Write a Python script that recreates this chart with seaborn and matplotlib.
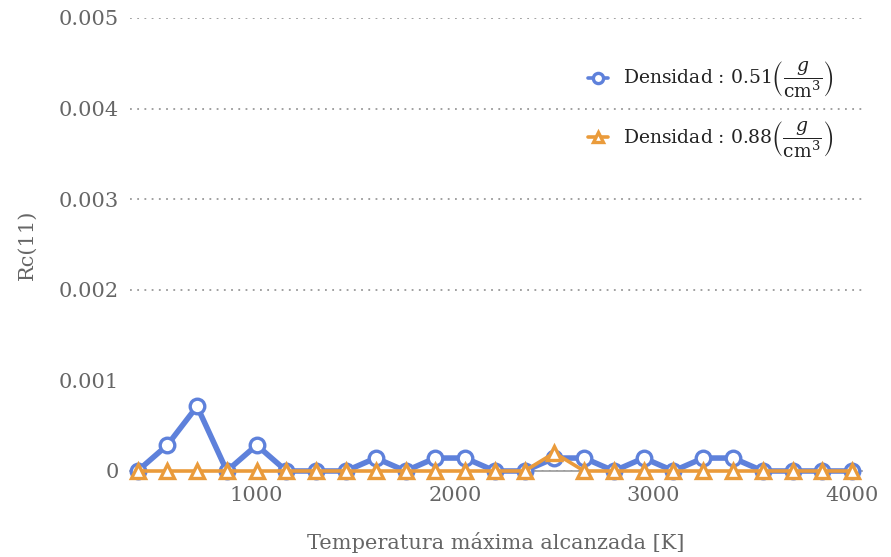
import numpy as np
import pandas as pd
import matplotlib
matplotlib.use("Agg")
import matplotlib.pyplot as plt
from matplotlib.ticker import FuncFormatter
import seaborn as sns

# Maximum temperature reached [K]
temperatura = [400, 550, 700, 850, 1000, 1150, 1300, 1450, 1600, 1750, 1900, 2050, 2200,
               2350, 2500, 2650, 2800, 2950, 3100, 3250, 3400, 3550, 3700, 3850, 4000]

# Rc(11) for each density
rc_051 = [0, 0.000286, 0.000714, 0, 0.000286, 0, 0, 0, 0.000143, 0, 0.000143, 0.000143, 0,
          0, 0.000143, 0.000143, 0, 0.000143, 0, 0.000143, 0.000143, 0, 0, 0, 0]
rc_088 = [0, 0, 0, 0, 0, 0, 0, 0, 0, 0, 0, 0, 0,
          0, 0.0002, 0, 0, 0, 0, 0, 0, 0, 0, 0, 0]

labels = [r"Densidad : 0.51$\left(\dfrac{g}{\mathrm{cm}^3}\right)$",
          r"Densidad : 0.88$\left(\dfrac{g}{\mathrm{cm}^3}\right)$"]
yticks = [0, 0.001, 0.002, 0.003, 0.004, 0.005]
xticks = [1000, 2000, 3000, 4000]

sns.set_style("white")
plt.rcParams["font.family"] = ["DejaVu Serif"]
plt.rcParams["mathtext.fontset"] = "dejavuserif"

grey = "#666666"
blue = "#5E81DB"
orange = "#EA9B3B"

fig = plt.figure(figsize=(8.91, 5.57), dpi=100)
ax = fig.add_axes([0.1459, 0.1544, 0.8216, 0.8133])

df = pd.DataFrame({"T": temperatura, "a": rc_051, "b": rc_088})

sns.lineplot(data=df, x="T", y="a", ax=ax, color=blue, lw=4.0, marker="o",
             markersize=10.5, markerfacecolor="white", markeredgecolor=blue,
             markeredgewidth=2.4, label=labels[0], clip_on=False, zorder=3)
sns.lineplot(data=df, x="T", y="b", ax=ax, color=orange, lw=2.6, marker="^",
             markersize=10.5, markerfacecolor="white", markeredgecolor=orange,
             markeredgewidth=2.4, label=labels[1], clip_on=False, zorder=4)

ax.set_xlim(362, 4050)
ax.set_ylim(0, 0.005)
ax.set_xticks(xticks)
ax.set_yticks(yticks)
ax.yaxis.set_major_formatter(FuncFormatter(lambda v, p: "0" if v == 0 else f"{v:.3f}"))

ax.grid(axis="y", linestyle=(0, (1, 3)), color="#999999", linewidth=1.3)
ax.yaxis.get_gridlines()[1].set_visible(False)

for s in ["left", "top", "right"]:
    ax.spines[s].set_visible(False)
ax.spines["bottom"].set_color("#999999")
ax.spines["bottom"].set_linewidth(1.2)

ax.tick_params(axis="x", direction="in", length=4, color="#999999", labelsize=15,
               labelcolor=grey, pad=11)
ax.tick_params(axis="y", length=0, labelsize=15, labelcolor=grey, pad=8)

ax.set_xlabel("Temperatura máxima alcanzada [K]", fontsize=15, color=grey, labelpad=19)
ax.set_ylabel("Rc(11)", fontsize=15, color=grey, labelpad=16)

leg = ax.legend(loc="upper right", bbox_to_anchor=(0.985, 0.945), frameon=False,
                fontsize=13.5, handlelength=1.1, labelspacing=1.0, handletextpad=0.8,
                markerscale=0.7)
for t in leg.get_texts():
    t.set_color("#222222")
for h in leg.get_lines():
    h.set_linewidth(2.6)

fig.savefig("out.png", dpi=100)
